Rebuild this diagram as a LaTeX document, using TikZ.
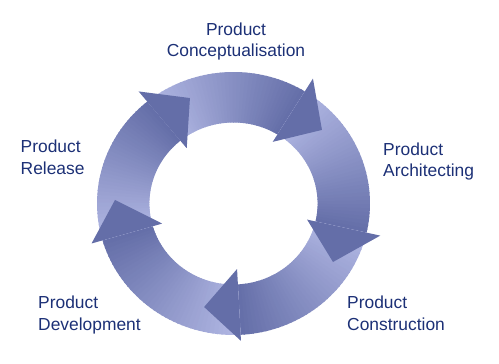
\documentclass[tikz,border=0pt]{standalone}
\usepackage{fontspec}
\newfontfamily\lblfont{Liberation Sans}
\definecolor{arrowdark}{RGB}{100,110,168}
\definecolor{arrowlight}{RGB}{178,184,228}
\definecolor{lbltext}{RGB}{28,48,118}
\begin{document}
\begin{tikzpicture}[x=1pt,y=1pt,
  lbl/.style={inner sep=0pt,text=lbltext,font=\lblfont\fontsize{17.4}{21.5}\selectfont},
  headfill/.style={fill=arrowdark}]
\useasboundingbox (0,0) rectangle (499,364);
\def\Ro{131.5}
\def\Ri{81}
\begin{scope}[shift={(233.5,160.5)},xscale=1.038]
  % arrow bodies with angular gradient (tail light -> head dark)
  \foreach \a/\b in {129.2/58.5, 58.5/-12.8, -12.8/-87, 273/196.3, 196.3/129.2} {
    \foreach \i in {0,...,39} {
      \pgfmathsetmacro\sa{\a+(\b-\a)*\i/40}
      \pgfmathsetmacro\sb{\a+(\b-\a)*min(\i+1.3,40)/40}
      \pgfmathsetmacro\pc{100*(\i+0.5)/40}
      \fill[arrowdark!\pc!arrowlight] (\sa:\Ro) arc[start angle=\sa,end angle=\sb,radius=\Ro]
        -- (\sb:\Ri) arc[start angle=\sb,end angle=\sa,radius=\Ri] -- cycle;
    }
  }
  % arrow heads
  \fill[headfill] (58.5:146.5) -- (40.8:112.6) -- (58.5:72.3) -- cycle;
  \fill[headfill] (-12.8:145) -- (-31.4:112.3) -- (-12.8:72.7) -- cycle;
  \fill[headfill] (-87:137.6) -- (-105.3:107.3) -- (-87:65.6) -- cycle;
  \fill[headfill] (196.3:142.5) -- (178.2:114.2) -- (196.3:71.6) -- cycle;
  \fill[headfill] (129.2:144.6) -- (111.7:113.5) -- (129.2:71.3) -- cycle;
\end{scope}
% labels
\node[lbl,align=center,anchor=north] (concept) at (236,341.5) {Product\\Conceptualisation};
\node[lbl,align=left,anchor=north west] (arch) at (383,221.5) {Product\\Architecting};
\node[lbl,align=left,anchor=north west] (constr) at (347,68.2) {Product\\Construction};
\node[lbl,align=left,anchor=north west] (devel) at (38,68.2) {Product\\Development};
\node[lbl,align=left,anchor=north west] (release) at (20.5,224.2) {Product\\Release};
\end{tikzpicture}
\end{document}
